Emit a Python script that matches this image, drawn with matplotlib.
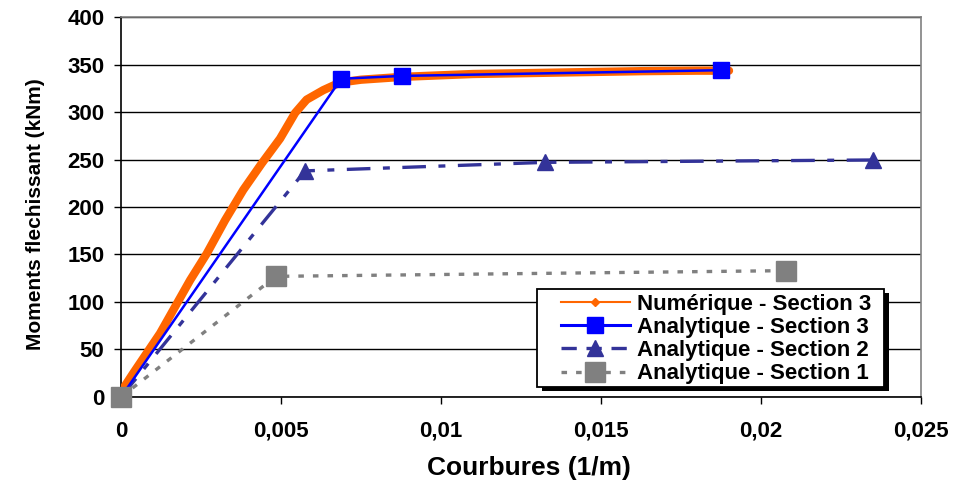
import matplotlib
matplotlib.use('Agg')
import matplotlib.pyplot as plt
from matplotlib.lines import Line2D
from matplotlib.patches import Rectangle
from matplotlib.ticker import FuncFormatter

plt.rcParams['font.family'] = ['Liberation Sans', 'DejaVu Sans']
plt.rcParams['font.weight'] = 'bold'
plt.rcParams['lines.scale_dashes'] = False

# Numérique - Section 3 (courbe)
num_x = [0, 0.00007, 0.00038, 0.0008, 0.00122, 0.00169, 0.00216, 0.00268, 0.00325,
         0.00382, 0.0044, 0.00497, 0.00544, 0.0058, 0.00632, 0.00684, 0.0075,
         0.0088, 0.0099, 0.011, 0.0128, 0.0145, 0.0163, 0.018, 0.019]
num_y = [0, 9, 25, 46, 67, 95, 123, 151, 186, 218, 246, 272, 299, 313, 323, 331, 334,
         337, 338.5, 340, 341, 342, 343, 343.5, 343.5]

# Analytique
s3_x = [0, 0.00688, 0.00878, 0.01875]
s3_y = [0, 335, 338, 344]
s2_x = [0, 0.00575, 0.01325, 0.0235]
s2_y = [0, 238, 247, 249.5]
s1_x = [0, 0.00484, 0.02078]
s1_y = [0, 127, 133]

labels = ['Numérique - Section 3', 'Analytique - Section 3',
          'Analytique - Section 2', 'Analytique - Section 1']

fig = plt.figure(figsize=(9.56, 4.9), dpi=100)
ax = fig.add_axes([0.1266, 0.1898, 0.8368, 0.7755])

ax.plot(num_x, num_y, color='#FF6600', lw=6, solid_capstyle='round', zorder=3)
ax.plot(s3_x, s3_y, color='#0000FF', lw=1.8, marker='s', ms=11, zorder=4)
ax.plot(s2_x, s2_y, color='#333399', lw=2.4, dashes=(17, 9, 5, 9), marker='^', ms=12,
        zorder=2)
ax.plot(s1_x, s1_y, color='#808080', lw=2.4, dashes=(4, 6.5), zorder=2)
ax.plot(s1_x, s1_y, ls='none', color='#808080', marker='s', ms=15, zorder=4.5,
        clip_on=False)

ax.set_xlim(0, 0.025)
ax.set_ylim(0, 400)
ax.set_xticks([0, 0.005, 0.01, 0.015, 0.02, 0.025])
ax.set_yticks(range(0, 401, 50))
ax.xaxis.set_major_formatter(FuncFormatter(lambda v, p: ('%g' % round(v, 4)).replace('.', ',')))
ax.yaxis.grid(True, color='black', lw=1)
ax.set_axisbelow(True)
ax.tick_params(axis='both', direction='out', length=5, width=1, labelsize=16, color='black')
ax.tick_params(axis='x', pad=12)
ax.tick_params(axis='y', pad=7)
for side in ['top', 'right']:
    ax.spines[side].set_color('#808080')
for side in ['left', 'bottom']:
    ax.spines[side].set_color('black')
for sp in ax.spines.values():
    sp.set_linewidth(1.2)
    sp.set_zorder(1)

ax.set_xlabel('Courbures (1/m)', fontsize=19, fontweight='bold', labelpad=10)
ax.xaxis.set_label_coords(0.51, -0.155)
ax.set_ylabel('Moments flechissant (kNm)', fontsize=15, fontweight='bold')
ax.yaxis.set_label_coords(-0.095, 0.48)

# cadre de légende avec ombre (style Excel)
fx0, fx1 = (537 - 121) / 800, (884 - 121) / 800
fy0, fy1 = (397 - 387) / 380, (397 - 289) / 380
dx, dy = 4.5 / 800, 4.5 / 380
ax.add_patch(Rectangle((fx0 + dx, fy0 - dy), fx1 - fx0, fy1 - fy0, transform=ax.transAxes,
                       facecolor='black', edgecolor='none', zorder=5, clip_on=False))
ax.add_patch(Rectangle((fx0, fy0), fx1 - fx0, fy1 - fy0, transform=ax.transAxes,
                       facecolor='white', edgecolor='black', lw=1.3, zorder=5.5, clip_on=False))

handles = [
    Line2D([], [], color='#FF6600', lw=1.5, marker='D', ms=4),
    Line2D([], [], color='#0000FF', lw=2.2, marker='s', ms=11),
    Line2D([], [], color='#333399', lw=2.4, dashes=(11, 7), marker='^', ms=12),
    Line2D([], [], color='#808080', lw=2.4, dashes=(4, 6.5), marker='s', ms=15),
]
leg = ax.legend(handles, labels, loc='upper left', bbox_to_anchor=(0.55, 0.272),
                borderaxespad=0, borderpad=0, fontsize=16, handlelength=3.1,
                handletextpad=0.3, labelspacing=0.1, frameon=False)
leg.set_zorder(6)

fig.savefig('out.png', dpi=100)
